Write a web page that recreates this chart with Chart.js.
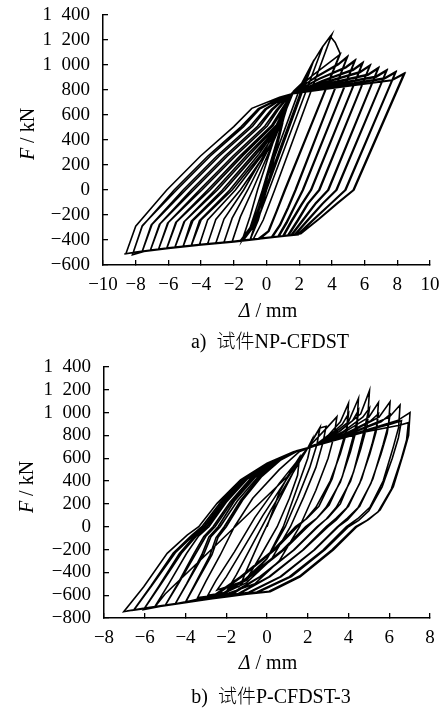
<!DOCTYPE html>
<html>
<head>
<meta charset="utf-8">
<script src="https://cdn.jsdelivr.net/npm/chart.js@4.4.1/dist/chart.umd.min.js"></script>
<style>
  html, body { margin: 0; padding: 0; background: #fff; }
  #wrap { position: relative; width: 444px; height: 709px; overflow: hidden;
          font-family: "Liberation Serif", "Times New Roman", serif; color: #000; }
  canvas { position: absolute; left: 0; }
  .lbl { position: absolute; white-space: nowrap; font-size: 20px; line-height: 1;
         transform: translate(-50%, -50%); }
  .ylbl { transform: translate(-50%, -50%) rotate(-90deg); }
  .cjk { font-family: "Noto Sans CJK SC", sans-serif; font-weight: 300; font-size: 19px; }
  .gap { display: inline-block; width: 10px; }
</style>
</head>
<body>
<div id="wrap">
  <canvas id="cNP" width="444" height="350" style="top:0;width:444px;height:350px"></canvas>
  <canvas id="cP3" width="444" height="359" style="top:350px;width:444px;height:359px"></canvas>

  <div class="lbl ylbl" style="left:27px;top:134px"><i>F</i> / kN</div>
  <div class="lbl" style="left:268px;top:310px"><i>Δ</i> / mm</div>
  <div class="lbl" style="left:270px;top:340px">a)<span class="gap"></span><span class="cjk">试件</span>NP-CFDST</div>

  <div class="lbl ylbl" style="left:26px;top:487px"><i>F</i> / kN</div>
  <div class="lbl" style="left:268px;top:662px"><i>Δ</i> / mm</div>
  <div class="lbl" style="left:271px;top:695px">b)<span class="gap"></span><span class="cjk">试件</span>P-CFDST-3</div>
</div>

<script>
// Axis ticks
const xTicksNP = [-10, -8, -6, -4, -2, 0, 2, 4, 6, 8, 10];
const yTicksNP = [-600, -400, -200, 0, 200, 400, 600, 800, 1000, 1200, 1400];
const xTicksP3 = [-8, -6, -4, -2, 0, 2, 4, 6, 8];
const yTicksP3 = [-800, -600, -400, -200, 0, 200, 400, 600, 800, 1000, 1200, 1400];

// Load–displacement record of specimen NP-CFDST, [Δ (mm), F (kN)]
const curveNP = [
  [0,0],[0.5,280],[1.0,540],
  [0.0,0],[-0.5,-240],[-1.0,-397],
  [-0.5,-200],[-0.25,0],[0.6,380],[1.4,745],
  [-0.15,0],[-0.8,-270],[-1.5,-405],
  [-1.0,-210],[-0.55,0],[0.5,420],[1.45,760],[2.15,853],
  [-0.25,0],[-1.0,-300],[-1.6,-405],[-2.1,-413],
  [-1.6,-215],[-0.85,0],[0.6,440],[1.6,780],[2.15,853],[2.5,930],
  [-0.1,0],[-0.9,-290],[-1.6,-405],[-2.6,-418],
  [-2.1,-225],[-1.15,0],[0.4,400],[1.4,750],[2.15,853],[2.9,1040],
  [0.0,0],[-0.8,-280],[-1.6,-404],[-2.5,-418],[-3.1,-425],
  [-2.6,-232],[-1.4,0],[0.25,370],[1.55,775],[2.15,853],[2.9,1035],[3.45,1150],
  [0.15,0],[-0.6,-260],[-1.4,-400],[-2.5,-418],[-3.6,-430],
  [-3.1,-235],[-1.6,0],[0.1,320],[0.9,570],[1.65,790],[2.2,860],[2.9,1035],[3.4,1140],[4.0,1245],
  [0.5,0],[-0.2,-240],[-0.8,-390],[-2.0,-413],[-3.0,-425],[-4.1,-437],
  [-3.6,-240],[-1.9,0],[-0.15,300],[0.8,560],[1.45,760],[2.15,853],[2.9,1035],[3.4,1140],[3.9,1230],[4.2,1180],[4.5,1093],
  [1.1,0],[0.6,-170],[0.1,-330],[-0.5,-390],[-2.0,-413],[-3.0,-425],[-4.0,-437],[-4.6,-443],
  [-4.1,-245],[-2.25,0],[-0.45,290],[0.9,545],[1.6,775],[2.8,915],[4.0,1035],[4.5,1085],
  [1.15,0],[0.65,-165],[0.15,-330],[-0.4,-392],[-2.0,-415],[-3.5,-433],[-4.6,-445],
  [-4.0,-240],[-2.1,0],[-0.3,290],[1.0,545],[1.4,752],[3.0,905],[4.4,1010],[4.94,1067],
  [1.75,0],[1.3,-140],[0.8,-280],[0.3,-378],[-1.0,-398],[-3.0,-425],[-4.5,-443],[-5.1,-450],
  [-4.6,-250],[-2.7,0],[-0.8,285],[0.85,530],[1.65,785],[3.0,900],[4.4,1003],[4.94,1060],
  [1.8,0],[1.35,-140],[0.85,-280],[0.35,-380],[-1.0,-400],[-3.0,-427],[-4.5,-445],[-5.1,-452],
  [-4.5,-245],[-2.55,0],[-0.65,285],[0.95,530],[1.5,765],[3.2,890],[4.85,985],[5.41,1040],
  [2.2,0],[1.7,-130],[1.2,-260],[0.7,-372],[-1.0,-398],[-3.0,-425],[-5.0,-450],[-5.6,-457],
  [-5.05,-255],[-3.15,0],[-1.2,280],[0.6,520],[1.2,680],[1.55,770],[3.2,885],[4.85,978],[5.41,1032],
  [2.25,0],[1.75,-130],[1.25,-262],[0.75,-374],[-1.0,-400],[-3.0,-427],[-5.0,-452],[-5.6,-459],
  [-5.0,-250],[-3.0,0],[-1.05,280],[0.7,520],[1.25,680],[1.55,770],[3.4,875],[5.3,965],[5.88,1019],
  [2.7,0],[2.1,-120],[1.5,-250],[1.0,-368],[0.0,-382],[-2.0,-413],[-4.0,-437],[-5.5,-457],[-6.1,-465],
  [-5.55,-260],[-3.6,0],[-1.6,275],[0.3,515],[0.9,640],[1.55,770],[3.4,870],[5.3,958],[5.88,1012],
  [2.75,0],[2.15,-120],[1.55,-252],[1.05,-370],[0.0,-384],[-2.0,-415],[-4.0,-439],[-5.5,-459],[-6.1,-467],
  [-5.5,-255],[-3.45,0],[-1.45,275],[0.4,515],[1.0,640],[1.55,770],[3.6,865],[5.7,945],[6.33,1000],
  [3.2,0],[2.5,-110],[1.9,-240],[1.3,-362],[0.0,-382],[-2.0,-413],[-4.0,-437],[-6.0,-465],[-6.6,-472],
  [-6.05,-265],[-4.1,0],[-2.05,272],[-0.1,512],[0.6,640],[1.2,730],[1.55,770],[3.6,860],[5.7,938],[6.33,993],
  [3.25,0],[2.55,-110],[1.95,-242],[1.35,-364],[0.0,-384],[-2.0,-415],[-4.0,-439],[-6.0,-467],[-6.6,-474],
  [-6.0,-260],[-3.95,0],[-1.9,272],[0.05,512],[0.7,640],[1.25,730],[1.55,770],[3.8,855],[6.2,925],[6.84,979],
  [3.75,0],[3.0,-105],[2.2,-240],[1.5,-360],[0.0,-382],[-2.0,-413],[-4.0,-437],[-6.0,-465],[-7.1,-480],
  [-6.55,-275],[-4.6,0],[-2.55,270],[-0.55,510],[0.3,645],[1.1,735],[1.5,768],[3.8,850],[6.2,918],[6.84,972],
  [3.8,0],[3.05,-105],[2.25,-242],[1.55,-362],[0.0,-384],[-2.0,-415],[-4.0,-439],[-6.0,-467],[-7.1,-482],
  [-6.5,-270],[-4.45,0],[-2.4,270],[-0.4,510],[0.4,645],[1.15,735],[1.5,768],[4.0,845],[6.7,910],[7.35,960],
  [4.25,0],[3.4,-110],[2.5,-240],[1.7,-358],[0.0,-382],[-2.0,-413],[-4.0,-437],[-6.0,-465],[-7.6,-490],
  [-7.05,-280],[-5.1,0],[-3.05,270],[-1.0,510],[-0.1,648],[1.0,738],[1.5,768],[4.0,840],[6.7,903],[7.35,953],
  [4.3,0],[3.45,-110],[2.55,-242],[1.75,-360],[0.0,-384],[-2.0,-415],[-4.0,-439],[-6.0,-467],[-7.6,-492],
  [-7.0,-275],[-4.95,0],[-2.9,270],[-0.85,510],[0.0,648],[1.05,738],[1.5,768],[4.3,835],[7.2,895],[7.9,947],
  [4.8,0],[3.9,-110],[2.9,-230],[1.9,-355],[0.0,-382],[-2.0,-413],[-4.0,-437],[-6.0,-465],[-7.5,-490],[-8.15,-500],
  [-7.6,-290],[-5.65,0],[-3.6,270],[-1.55,507],[-0.5,650],[0.9,740],[1.5,768],[4.3,830],[7.2,888],[7.9,940],
  [4.85,0],[3.95,-110],[2.95,-232],[1.95,-357],[0.0,-384],[-2.0,-415],[-4.0,-439],[-6.0,-467],[-7.5,-492],[-8.2,-518],
  [-7.6,-285],[-5.5,0],[-3.45,270],[-1.4,507],[-0.4,650],[0.95,740],[1.5,768],[4.5,825],[7.66,880],[8.41,933],
  [5.3,0],[4.3,-107],[3.2,-230],[2.05,-352],[0.0,-382],[-2.0,-413],[-4.0,-437],[-6.0,-465],[-8.0,-498],[-8.6,-510],
  [-8.0,-290],[-6.1,0],[-4.05,270],[-2.0,507],[-0.9,653],[0.8,741],[1.5,768],[4.5,822],[7.66,876],[8.45,930],
  [5.35,0],[4.35,-107],[3.25,-230],[2.1,-350],[0.0,-380],[-2.0,-411],[-4.0,-435],[-6.0,-463],[-8.0,-496],[-8.7,-512]
];

// Load–displacement record of specimen P-CFDST-3, [Δ (mm), F (kN)]
const curveP3 = [
  [0,0],[0.6,300],[1.2,500],[1.6,610],
  [1.5,450],[1.1,250],[0.5,0],[-0.3,-250],[-0.9,-430],[-1.3,-510],
  [-1.0,-380],[-0.3,-100],[0.5,200],[1.3,480],[2.0,690],[2.2,760],
  [2.0,600],[1.5,350],[0.8,0],[0.0,-280],[-1.0,-470],[-1.9,-540],
  [-1.5,-420],[-0.7,-150],[0.2,150],[1.1,420],[2.0,690],[2.6,870],
  [2.45,720],[2.1,520],[1.5,250],[0.9,0],[0.0,-280],[-1.2,-480],[-2.45,-555],
  [-2.0,-440],[-1.2,-200],[-0.2,100],[0.9,400],[2.0,690],[2.6,865],[2.9,880],
  [2.75,740],[2.4,520],[1.8,260],[1.15,0],[0.2,-290],[-1.0,-490],[-2.0,-575],[-2.9,-600],
  [-2.5,-470],[-1.6,-220],[-0.6,80],[0.6,380],[2.0,690],[2.9,860],[3.43,965],
  [3.3,800],[3.0,600],[2.4,320],[1.6,0],[0.6,-300],[-0.6,-500],[-2.0,-590],[-3.4,-620],
  [-3.0,-480],[-2.3,-250],[-1.6,0],[-0.7,250],[0.6,500],[1.6,660],[2.3,706],[3.0,800],[3.6,920],[4.0,1082],
  [3.93,880],[3.7,730],[3.2,420],[2.55,180],[1.95,70],[1.4,0],[0.3,-204],[-1.3,-438],[-2.6,-600],[-4.0,-660],
  [-3.5,-490],[-2.8,-250],[-2.5,-95],[-2.1,0],[-1.3,230],[-0.35,440],[0.6,580],[1.6,672],[2.3,707],[3.2,820],[3.7,900],[4.0,990],
  [3.9,820],[3.6,640],[3.1,400],[2.4,170],[1.9,65],[1.5,0],[0.4,-200],[-1.2,-435],[-2.5,-600],[-4.0,-662],
  [-3.45,-485],[-2.7,-245],[-2.4,-92],[-2.0,0],[-1.2,232],[-0.25,442],[0.65,582],[1.6,672],[2.3,707],[3.3,820],[4.0,920],[4.49,1126],
  [4.42,930],[4.2,770],[3.7,440],[3.05,190],[2.45,75],[1.9,0],[0.75,-204],[-0.9,-438],[-2.3,-600],[-3.5,-640],[-4.5,-675],
  [-3.95,-500],[-3.2,-245],[-2.85,-90],[-2.4,0],[-1.6,225],[-0.6,430],[0.45,575],[1.55,670],[2.3,706],[3.5,830],[4.2,930],[4.49,1020],
  [4.4,860],[4.1,660],[3.6,390],[2.9,170],[2.4,65],[2.0,0],[0.85,-200],[-0.8,-436],[-2.2,-600],[-3.5,-642],[-4.5,-677],
  [-3.9,-490],[-3.1,-240],[-2.75,-88],[-2.3,0],[-1.45,228],[-0.45,435],[0.55,578],[1.55,670],[2.3,706],[3.6,840],[4.6,990],[5.03,1193],
  [4.96,1000],[4.75,830],[4.25,480],[3.6,200],[3.0,80],[2.45,0],[1.3,-204],[-0.35,-438],[-1.8,-590],[-3.3,-644],[-5.0,-690],
  [-4.4,-505],[-3.6,-240],[-3.1,-85],[-2.65,0],[-1.8,220],[-0.8,425],[0.3,570],[1.5,668],[2.3,706],[3.7,830],[4.7,960],[5.03,1040],
  [4.9,880],[4.6,680],[4.1,400],[3.4,170],[2.9,65],[2.5,0],[1.35,-200],[-0.3,-436],[-1.7,-592],[-3.3,-646],[-5.0,-692],
  [-4.35,-500],[-3.5,-238],[-3.0,-84],[-2.55,0],[-1.7,222],[-0.7,427],[0.35,572],[1.5,668],[2.3,706],[3.9,840],[5.0,960],[5.47,1088],
  [5.4,900],[5.15,720],[4.65,420],[4.0,180],[3.4,75],[2.9,0],[1.75,-204],[0.1,-438],[-1.4,-585],[-3.3,-644],[-5.5,-700],
  [-4.85,-510],[-3.95,-235],[-3.35,-80],[-2.85,0],[-2.0,215],[-0.95,420],[0.2,565],[1.45,665],[2.3,705],[4.0,830],[5.1,930],[5.47,990],
  [5.35,830],[5.05,640],[4.55,380],[3.9,160],[3.4,60],[3.0,0],[1.8,-200],[0.15,-436],[-1.35,-587],[-3.3,-646],[-5.5,-702],
  [-5.0,-590],[1.0,440],[2.05,700],[4.2,840],[5.5,960],[6.04,1096],
  [5.97,900],[5.7,720],[5.2,420],[4.55,180],[3.95,75],[3.45,0],[2.3,-204],[0.65,-438],[-0.9,-575],[-3.27,-644],[-5.0,-688],[-6.05,-724],
  [-5.3,-520],[-4.3,-235],[-3.55,-80],[-3.05,0],[-2.15,212],[-1.1,418],[0.1,562],[1.4,662],[2.3,705],[4.3,830],[5.6,920],[6.04,985],
  [5.9,820],[5.6,640],[5.1,380],[4.45,160],[3.95,60],[3.5,0],[2.35,-200],[0.7,-436],[-0.85,-577],[-3.27,-646],[-5.0,-690],[-6.05,-726],
  [-5.25,-515],[-4.2,-232],[-3.45,-78],[-2.95,0],[-2.05,214],[-1.0,420],[0.15,564],[1.45,664],[2.3,705],[4.5,850],[6.0,960],[6.53,1067],
  [6.46,870],[6.2,700],[5.7,400],[5.05,170],[4.45,70],[3.9,0],[2.75,-204],[1.1,-438],[-0.5,-572],[-3.27,-644],[-5.0,-690],[-6.54,-730],
  [-5.7,-520],[-4.6,-230],[-3.7,-75],[-3.2,0],[-2.3,210],[-1.2,415],[0.05,560],[1.35,660],[2.3,705],[4.6,830],[6.1,900],[6.6,930],
  [6.45,780],[6.15,600],[5.65,350],[5.0,140],[4.5,55],[4.0,0],[2.85,-200],[1.2,-436],[-0.4,-572],[-3.27,-646],[-5.0,-692],[-6.54,-732],
  [-5.65,-515],[-4.5,-228],[-3.6,-74],[-3.1,0],[-2.2,210],[-1.15,417],[0.1,562],[1.4,662],[2.3,705],[4.7,840],[6.4,930],[7.02,1000],
  [6.95,800],[6.7,644],[6.2,351],[5.55,146],[5.0,65],[4.41,0],[3.26,-204],[1.63,-438],[0.16,-570],[-1.0,-592],[-2.0,-615],[-3.27,-644],[-4.9,-687],[-6.0,-715],[-7.03,-745],
  [-6.05,-526],[-4.9,-233],[-3.92,-73],[-3.35,0],[-2.45,205],[-1.3,410],[0.0,556],[1.3,658],[2.3,705],[4.8,830],[6.5,890],[6.94,912],
  [6.85,760],[6.6,600],[6.1,330],[5.45,130],[4.9,55],[4.35,0],[3.2,-200],[1.6,-432],[0.1,-566],[-1.0,-590],[-2.0,-612],[-3.27,-642],[-4.9,-685],[-6.0,-712],[-6.9,-738]
];

// "1 400", "−200" style tick text
function fmt(v) {
  const s = String(Math.abs(v));
  const g = s.length > 3 ? s.slice(0, -3) + '\u2002' + s.slice(-3) : s;
  return (v < 0 ? '\u2212' : '') + g;
}

const tickFont = { family: '"Liberation Serif", "Times New Roman", serif', size: 19 };

// Fixed-size axis; label overhang is absorbed by the layout padding instead
function axis(ticks, fitFn, pad) {
  return {
    type: 'linear',
    min: ticks[0],
    max: ticks[ticks.length - 1],
    afterBuildTicks: s => { s.ticks = ticks.map(v => ({ value: v })); },
    afterFit: s => {
      fitFn(s);
      s.paddingTop = 0; s.paddingBottom = 0; s.paddingLeft = 0; s.paddingRight = 0;
    },
    grid: { display: true, drawOnChartArea: false, drawTicks: true, tickLength: -5,
            color: '#000', tickColor: '#000', lineWidth: 1.3 },
    border: { display: true, color: '#000', width: 1.5 },
    ticks: { padding: pad, color: '#000', font: tickFont, autoSkip: false,
             maxRotation: 0, callback: v => fmt(v) }
  };
}

function drawLoops(id, curve, xTicks, yTicks, yW, xH, padTop) {
  new Chart(document.getElementById(id), {
    type: 'scatter',
    data: {
      datasets: [{
        data: curve.map(p => ({ x: p[0], y: p[1] })),
        showLine: true, fill: false, tension: 0,
        borderColor: '#000', borderWidth: 1.6,
        pointRadius: 0, pointHoverRadius: 0
      }]
    },
    options: {
      responsive: false, animation: false, devicePixelRatio: 1, events: [],
      layout: { padding: { top: padTop, right: 14, left: 0, bottom: 0 } },
      plugins: { legend: { display: false }, tooltip: { enabled: false } },
      scales: {
        x: axis(xTicks, s => { s.height = xH; }, 14),
        y: axis(yTicks, s => { s.width = yW; }, 18)
      }
    }
  });
}

drawLoops('cNP', curveNP, xTicksNP, yTicksNP, 103, 85, 15);
drawLoops('cP3', curveP3, xTicksP3, yTicksP3, 104, 91, 17);
</script>
</body>
</html>
